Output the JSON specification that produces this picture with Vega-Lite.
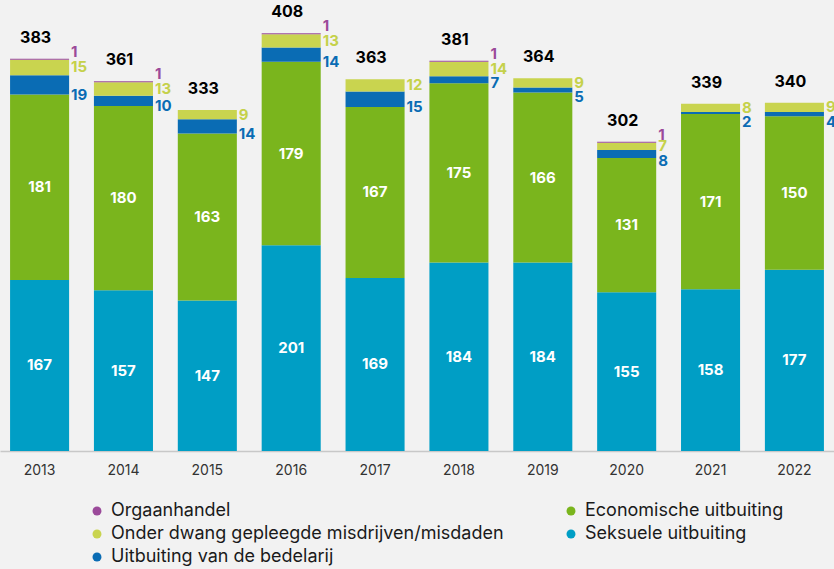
{
  "$schema": "https://vega.github.io/schema/vega-lite/v6.json",
  "width": 834,
  "height": 451,
  "autosize": {"type": "none"},
  "padding": {"left": 0, "top": 0, "right": 0, "bottom": 118},
  "background": "#f2f2f2",
  "config": {
    "view": {"stroke": null},
    "font": "Inter",
    "text": {"font": "Inter"}
  },
  "data": {
    "values": [
      {"year": "2013", "series": "Seksuele uitbuiting", "value": 167},
      {"year": "2013", "series": "Economische uitbuiting", "value": 181},
      {"year": "2013", "series": "Uitbuiting van de bedelarij", "value": 19},
      {"year": "2013", "series": "Onder dwang gepleegde misdrijven/misdaden", "value": 15},
      {"year": "2013", "series": "Orgaanhandel", "value": 1},
      {"year": "2014", "series": "Seksuele uitbuiting", "value": 157},
      {"year": "2014", "series": "Economische uitbuiting", "value": 180},
      {"year": "2014", "series": "Uitbuiting van de bedelarij", "value": 10},
      {"year": "2014", "series": "Onder dwang gepleegde misdrijven/misdaden", "value": 13},
      {"year": "2014", "series": "Orgaanhandel", "value": 1},
      {"year": "2015", "series": "Seksuele uitbuiting", "value": 147},
      {"year": "2015", "series": "Economische uitbuiting", "value": 163},
      {"year": "2015", "series": "Uitbuiting van de bedelarij", "value": 14},
      {"year": "2015", "series": "Onder dwang gepleegde misdrijven/misdaden", "value": 9},
      {"year": "2015", "series": "Orgaanhandel", "value": 0},
      {"year": "2016", "series": "Seksuele uitbuiting", "value": 201},
      {"year": "2016", "series": "Economische uitbuiting", "value": 179},
      {"year": "2016", "series": "Uitbuiting van de bedelarij", "value": 14},
      {"year": "2016", "series": "Onder dwang gepleegde misdrijven/misdaden", "value": 13},
      {"year": "2016", "series": "Orgaanhandel", "value": 1},
      {"year": "2017", "series": "Seksuele uitbuiting", "value": 169},
      {"year": "2017", "series": "Economische uitbuiting", "value": 167},
      {"year": "2017", "series": "Uitbuiting van de bedelarij", "value": 15},
      {"year": "2017", "series": "Onder dwang gepleegde misdrijven/misdaden", "value": 12},
      {"year": "2017", "series": "Orgaanhandel", "value": 0},
      {"year": "2018", "series": "Seksuele uitbuiting", "value": 184},
      {"year": "2018", "series": "Economische uitbuiting", "value": 175},
      {"year": "2018", "series": "Uitbuiting van de bedelarij", "value": 7},
      {"year": "2018", "series": "Onder dwang gepleegde misdrijven/misdaden", "value": 14},
      {"year": "2018", "series": "Orgaanhandel", "value": 1},
      {"year": "2019", "series": "Seksuele uitbuiting", "value": 184},
      {"year": "2019", "series": "Economische uitbuiting", "value": 166},
      {"year": "2019", "series": "Uitbuiting van de bedelarij", "value": 5},
      {"year": "2019", "series": "Onder dwang gepleegde misdrijven/misdaden", "value": 9},
      {"year": "2019", "series": "Orgaanhandel", "value": 0},
      {"year": "2020", "series": "Seksuele uitbuiting", "value": 155},
      {"year": "2020", "series": "Economische uitbuiting", "value": 131},
      {"year": "2020", "series": "Uitbuiting van de bedelarij", "value": 8},
      {"year": "2020", "series": "Onder dwang gepleegde misdrijven/misdaden", "value": 7},
      {"year": "2020", "series": "Orgaanhandel", "value": 1},
      {"year": "2021", "series": "Seksuele uitbuiting", "value": 158},
      {"year": "2021", "series": "Economische uitbuiting", "value": 171},
      {"year": "2021", "series": "Uitbuiting van de bedelarij", "value": 2},
      {"year": "2021", "series": "Onder dwang gepleegde misdrijven/misdaden", "value": 8},
      {"year": "2021", "series": "Orgaanhandel", "value": 0},
      {"year": "2022", "series": "Seksuele uitbuiting", "value": 177},
      {"year": "2022", "series": "Economische uitbuiting", "value": 150},
      {"year": "2022", "series": "Uitbuiting van de bedelarij", "value": 4},
      {"year": "2022", "series": "Onder dwang gepleegde misdrijven/misdaden", "value": 9},
      {"year": "2022", "series": "Orgaanhandel", "value": 0}
    ]
  },
  "transform": [
    {"calculate": "indexof(['Seksuele uitbuiting','Economische uitbuiting','Uitbuiting van de bedelarij','Onder dwang gepleegde misdrijven/misdaden','Orgaanhandel'], datum.series)", "as": "ord"},
    {"stack": "value", "groupby": ["year"], "sort": [{"field": "ord", "order": "ascending"}], "as": ["y0", "y1"]},
    {"calculate": "(datum.y0 + datum.y1) / 2", "as": "ymid"},
    {"calculate": "datum.ord == 3 ? datum.value : 0", "as": "yv"},
    {"joinaggregate": [{"op": "sum", "field": "yv", "as": "yellowV"}], "groupby": ["year"]},
    {"calculate": "min(datum.y0, datum.y1 + datum.yellowV / 2 - 14)", "as": "ylab"}
  ],
  "encoding": {
    "x": {
      "field": "year", "type": "nominal",
      "scale": {"paddingInner": 0.296, "paddingOuter": 0.12},
      "axis": {
        "title": null, "labelAngle": 0, "ticks": false,
        "domainColor": "#c8c8c8", "domainWidth": 1.5,
        "labelColor": "#333333", "labelFontSize": 14, "labelFont": "Inter",
        "labelPadding": 12
      }
    }
  },
  "layer": [
    {
      "mark": {"type": "bar"},
      "encoding": {
        "y": {"field": "y0", "type": "quantitative", "scale": {"domain": [0, 440.4], "nice": false}, "axis": null},
        "y2": {"field": "y1"},
        "color": {
          "field": "series", "type": "nominal",
          "scale": {
            "domain": ["Orgaanhandel", "Onder dwang gepleegde misdrijven/misdaden", "Uitbuiting van de bedelarij", "Economische uitbuiting", "Seksuele uitbuiting"],
            "range": ["#9b4a9a", "#c9d44f", "#0a6cb4", "#7ab51d", "#009ec5"]
          },
          "legend": {
            "title": null, "orient": "none", "legendX": 88, "legendY": 502,
            "columns": 2, "columnPadding": 58, "rowPadding": 5,
            "symbolType": "circle", "symbolSize": 80, "symbolStrokeWidth": 0,
            "labelFontSize": 18, "labelFont": "Inter", "labelColor": "#1a1a1a",
            "labelOffset": 5, "padding": 0, "labelLimit": 600
          }
        }
      }
    },
    {
      "transform": [{"filter": "datum.ord <= 1"}],
      "mark": {"type": "text", "color": "white", "fontWeight": "bold", "fontSize": 15, "baseline": "middle"},
      "encoding": {
        "y": {"field": "ymid", "type": "quantitative"},
        "text": {"field": "value", "type": "quantitative"}
      }
    },
    {
      "transform": [{"filter": "datum.ord == 3 && datum.value > 0"}],
      "mark": {"type": "text", "color": "#c5d14b", "fontWeight": "bold", "fontSize": 15, "baseline": "middle", "align": "left", "dx": 2},
      "encoding": {
        "x": {"field": "year", "type": "nominal", "bandPosition": 1},
        "y": {"field": "ymid", "type": "quantitative"},
        "text": {"field": "value", "type": "quantitative"}
      }
    },
    {
      "transform": [{"filter": "datum.ord == 2 && datum.value > 0"}],
      "mark": {"type": "text", "color": "#0a6cb4", "fontWeight": "bold", "fontSize": 15, "baseline": "middle", "align": "left", "dx": 2, "dy": 0},
      "encoding": {
        "x": {"field": "year", "type": "nominal", "bandPosition": 1},
        "y": {"field": "ylab", "type": "quantitative"},
        "text": {"field": "value", "type": "quantitative"}
      }
    },
    {
      "transform": [{"filter": "datum.ord == 4 && datum.value > 0"}],
      "mark": {"type": "text", "color": "#9b4a9a", "fontWeight": "bold", "fontSize": 15, "baseline": "middle", "align": "left", "dx": 2, "dy": -7},
      "encoding": {
        "x": {"field": "year", "type": "nominal", "bandPosition": 1},
        "y": {"field": "y1", "type": "quantitative"},
        "text": {"field": "value", "type": "quantitative"}
      }
    },
    {
      "transform": [{"filter": "datum.ord == 4"}],
      "mark": {"type": "text", "color": "#000000", "fontWeight": "bold", "fontSize": 16, "baseline": "middle", "dx": -4, "dy": -21},
      "encoding": {
        "y": {"field": "y1", "type": "quantitative"},
        "text": {"field": "y1", "type": "quantitative"}
      }
    }
  ]
}
